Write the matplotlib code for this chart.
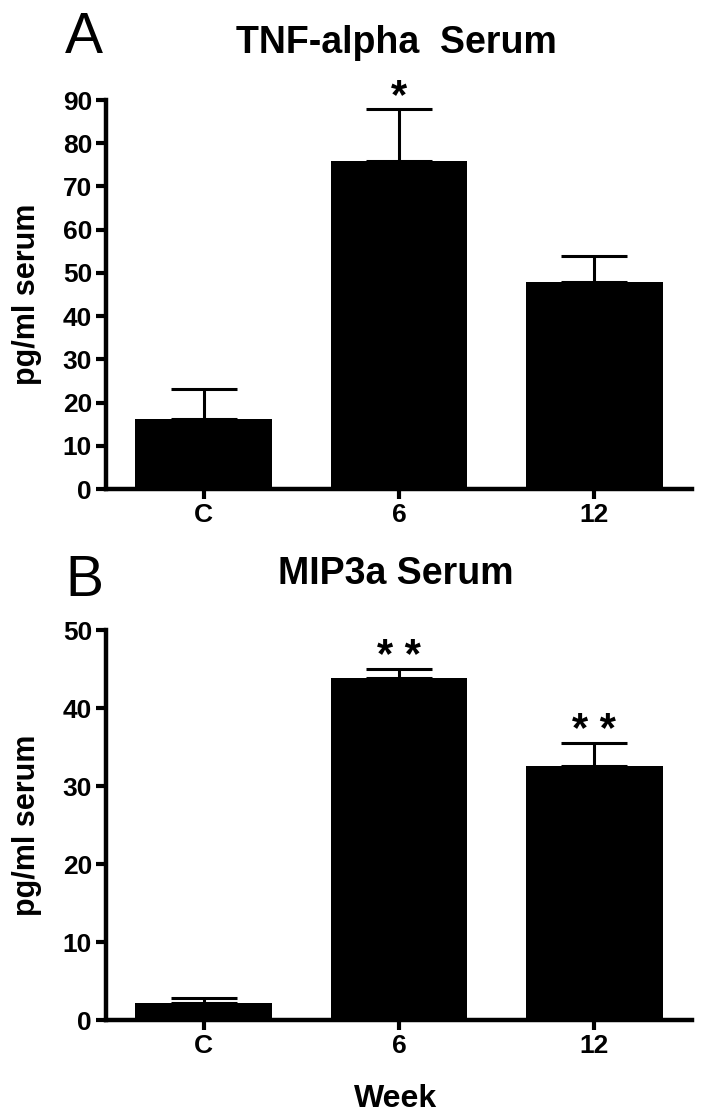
import matplotlib
matplotlib.use('Agg')
import matplotlib.pyplot as plt
import numpy as np

# === DATOS ===
weeks = ['C', '6', '12']

tnf_mean = [16.2, 76.0, 47.8]
tnf_err = [6.9, 11.9, 6.0]
tnf_stars = ['', '*', '']

mip_mean = [2.2, 43.9, 32.6]
mip_err = [0.6, 1.1, 2.9]
mip_stars = ['', '* *', '* *']

plt.rcParams['font.family'] = ['Liberation Sans', 'DejaVu Sans']

W, H = 704, 1116
fig = plt.figure(figsize=(W / 100, H / 100), dpi=100)


def panel(bottom_px, top_px, means, errs, stars, ymax, title, title_base, letter, letter_base):
    ax = fig.add_axes([106 / W, 1 - bottom_px / H, (692 - 106) / W, (bottom_px - top_px) / H])
    x = np.arange(len(weeks))
    ax.bar(x, means, width=0.7, color='black', zorder=2)
    # solo la barra de error superior
    ax.errorbar(x, means, yerr=[np.zeros(len(errs)), errs], fmt='none', ecolor='black',
                elinewidth=2.2, capsize=24, capthick=2.2, zorder=3, clip_on=False)
    for xi, m, e, s in zip(x, means, errs, stars):
        if s:
            ax.annotate(s, (xi, m + e), xytext=(0, 1), textcoords='offset points',
                        ha='center', va='baseline', fontsize=30, fontweight='bold',
                        annotation_clip=False)
    ax.set_xlim(-0.5, 2.5)
    ax.set_ylim(0, ymax)
    ax.set_yticks(np.arange(0, ymax + 1, 10))
    ax.set_xticks(x)
    ax.set_xticklabels(weeks)
    for side in ['top', 'right']:
        ax.spines[side].set_visible(False)
    for side in ['left', 'bottom']:
        ax.spines[side].set_linewidth(3.2)
    ax.tick_params(axis='both', length=7.5, width=3, pad=2.5, labelsize=19)
    for lab in ax.get_xticklabels() + ax.get_yticklabels():
        lab.set_fontweight('bold')
    ax.set_ylabel('pg/ml serum', fontsize=22, fontweight='bold')
    ax.yaxis.set_label_coords(-0.109, 0.5)
    fig.text(396 / W, 1 - title_base / H, title, ha='center', va='baseline',
             fontsize=27, fontweight='bold')
    fig.text(65 / W, 1 - letter_base / H, letter, ha='left', va='baseline',
             fontsize=41)
    return ax


ax1 = panel(489, 100, tnf_mean, tnf_err, tnf_stars, 90, 'TNF-alpha  Serum', 53, 'A', 53)
ax2 = panel(1020, 630, mip_mean, mip_err, mip_stars, 50, 'MIP3a Serum', 584, 'B', 596)

fig.text(396 / W, 1 - 1107 / H, 'Week', ha='center', va='baseline',
         fontsize=23, fontweight='bold')

fig.savefig('out.png', dpi=100)
